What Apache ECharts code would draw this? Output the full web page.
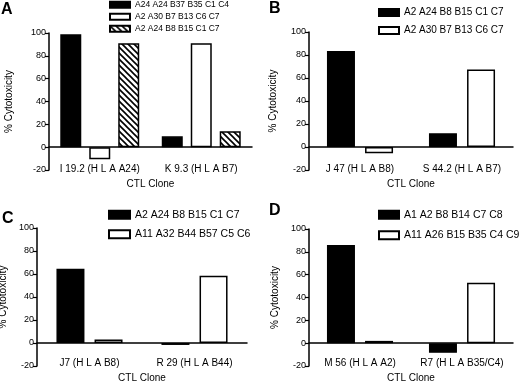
<!DOCTYPE html>
<html>
<head>
    <meta charset="utf-8">
    <title>CTL clone cytotoxicity</title>
    <style type="text/css">
        * {
            margin: 0;
            padding: 0;
        }

        html,
        body {
            width: 520px;
            height: 382px;
            background: #fff;
            overflow: hidden;
        }

        .panel {
            position: absolute;
            width: 260px;
            height: 191px;
        }
    </style>
</head>

<body>
    <div class="panel" id="pA" style="left:0;top:0"></div>
    <div class="panel" id="pB" style="left:260px;top:0"></div>
    <div class="panel" id="pC" style="left:0;top:191px"></div>
    <div class="panel" id="pD" style="left:260px;top:191px"></div>

    <script src="https://cdn.jsdelivr.net/npm/echarts@6/dist/echarts.min.js"></script>
    <script type="text/javascript">
        // y axis, same for all four panels
        const yMin = -20;
        const yMax = 100;
        const yStep = 20;

        // panel A
        const catsA = ['I 19.2 (H L A A24)', 'K 9.3 (H L A B7)'];
        const namesA = ['A24 A24 B37 B35 C1 C4', 'A2 A30 B7 B13 C6 C7', 'A2 A24 B8 B15 C1 C7'];
        const blackA = [99, 9.5];
        const whiteA = [-10.5, 91];
        const hatchA = [91, 14];

        // panel B
        const catsB = ['J 47 (H L A B8)', 'S 44.2 (H L A B7)'];
        const namesB = ['A2 A24 B8 B15 C1 C7', 'A2 A30 B7 B13 C6 C7'];
        const blackB = [83.5, 12];
        const whiteB = [-5.5, 67.5];

        // panel C
        const catsC = ['J7 (H L A B8)', 'R 29 (H L A B44)'];
        const namesC = ['A2 A24 B8 B15 C1 C7', 'A11 A32 B44 B57 C5 C6'];
        const blackC = [64.5, -1.7];
        const whiteC = [3, 58.5];

        // panel D
        const catsD = ['M 56 (H L A A2)', 'R7 (H L A B35/C4)'];
        const namesD = ['A1 A2 B8 B14 C7 C8', 'A11 A26 B15 B35 C4 C9'];
        const blackD = [86, -8.5];
        const whiteD = [2, 53];
    </script>
    <script type="text/javascript">
        const FONT = "'Liberation Sans', Arial, sans-serif";

        // diagonal hatch (top-left to bottom-right)
        const hatch = document.createElement('canvas');
        hatch.width = hatch.height = 6;
        const hctx = hatch.getContext('2d');
        hctx.fillStyle = '#fff';
        hctx.fillRect(0, 0, 6, 6);
        hctx.strokeStyle = '#000';
        hctx.lineWidth = 1.6;
        hctx.beginPath();
        hctx.moveTo(-1, -1); hctx.lineTo(7, 7);
        hctx.moveTo(-1, 5); hctx.lineTo(1, 7);
        hctx.moveTo(5, -1); hctx.lineTo(7, 1);
        hctx.stroke();

        const fills = ['#000', '#fff', { image: hatch, repeat: 'repeat' }];

        function makePanel(id, p) {
            const chart = echarts.init(document.getElementById(id), null, { renderer: 'canvas' });
            chart.setOption({
                animation: false,
                textStyle: { fontFamily: FONT, color: '#000' },
                title: {
                    text: p.letter,
                    left: p.letterPos[0],
                    top: p.letterPos[1],
                    padding: 0,
                    textStyle: { fontFamily: FONT, fontSize: 16, fontWeight: 'bold', color: '#000' }
                },
                legend: {
                    orient: 'vertical',
                    left: p.legend.left,
                    top: p.legend.top,
                    padding: 0,
                    icon: 'rect',
                    itemWidth: p.legend.w,
                    itemHeight: p.legend.h,
                    itemGap: p.legend.gap,
                    selectedMode: false,
                    data: p.names,
                    textStyle: { fontFamily: FONT, fontSize: p.legend.font, color: '#000', lineHeight: p.legend.font + 1 }
                },
                grid: {
                    left: p.grid[0], top: p.grid[1], right: p.grid[2], bottom: p.grid[3],
                    outerBoundsMode: 'none'
                },
                xAxis: {
                    type: 'category',
                    data: p.cats,
                    name: 'CTL Clone',
                    nameLocation: 'middle',
                    nameGap: p.nameGapX,
                    nameTextStyle: { fontFamily: FONT, fontSize: 10, color: '#000' },
                    axisLine: { onZero: true, lineStyle: { color: '#000', width: 1.5 } },
                    axisTick: { alignWithLabel: true, length: 3, lineStyle: { color: '#000', width: 1.2 } },
                    axisLabel: { interval: 0, fontFamily: FONT, fontSize: 10, color: '#000', margin: p.labelMargin }
                },
                yAxis: {
                    type: 'value',
                    min: yMin,
                    max: yMax,
                    interval: yStep,
                    name: '% Cytotoxicity',
                    nameLocation: 'middle',
                    nameGap: p.nameGapY,
                    nameTextStyle: { fontFamily: FONT, fontSize: 10, color: '#000' },
                    axisLine: { show: true, lineStyle: { color: '#000', width: 1.5 } },
                    axisTick: { show: true, length: 4, lineStyle: { color: '#000', width: 1.2 } },
                    axisLabel: { fontFamily: FONT, fontSize: 9, color: '#000', margin: 3 },
                    splitLine: { show: false }
                },
                series: p.values.map((vals, i) => ({
                    type: 'bar',
                    name: p.names[i],
                    data: vals,
                    barWidth: p.barWidth,
                    barGap: p.barGap,
                    itemStyle: { color: fills[i], borderColor: '#000', borderWidth: 1.5 }
                }))
            });
        }

        makePanel('pA', {
            letter: 'A', letterPos: [1, 2],
            cats: catsA, names: namesA, values: [blackA, whiteA, hatchA],
            grid: [49, 33, 8, 21], barWidth: 21, barGap: '38%',
            nameGapX: 8, nameGapY: 35, labelMargin: -6,
            legend: { left: 109, top: 0, w: 20, h: 6, gap: 2.5, font: 8.5 }
        });
        makePanel('pB', {
            letter: 'B', letterPos: [9, 1],
            cats: catsB, names: namesB, values: [blackB, whiteB],
            grid: [49, 32, 7, 21], barWidth: 28, barGap: '36%',
            nameGapX: 8, nameGapY: 31, labelMargin: -6,
            legend: { left: 118, top: 7, w: 20, h: 7, gap: 7, font: 10 }
        });
        makePanel('pC', {
            letter: 'C', letterPos: [2, 20],
            cats: catsC, names: namesC, values: [blackC, whiteC],
            grid: [37, 37, 13, 16], barWidth: 28, barGap: '36%',
            nameGapX: 5, nameGapY: 26, labelMargin: -8,
            legend: { left: 108, top: 18, w: 21, h: 8, gap: 8, font: 10.5 }
        });
        makePanel('pD', {
            letter: 'D', letterPos: [9, 12],
            cats: catsD, names: namesD, values: [blackD, whiteD],
            grid: [49, 38, 7, 16], barWidth: 28, barGap: '36%',
            nameGapX: 5, nameGapY: 29, labelMargin: -8,
            legend: { left: 118, top: 18, w: 20, h: 8, gap: 9, font: 10.5 }
        });
    </script>
</body>

</html>
